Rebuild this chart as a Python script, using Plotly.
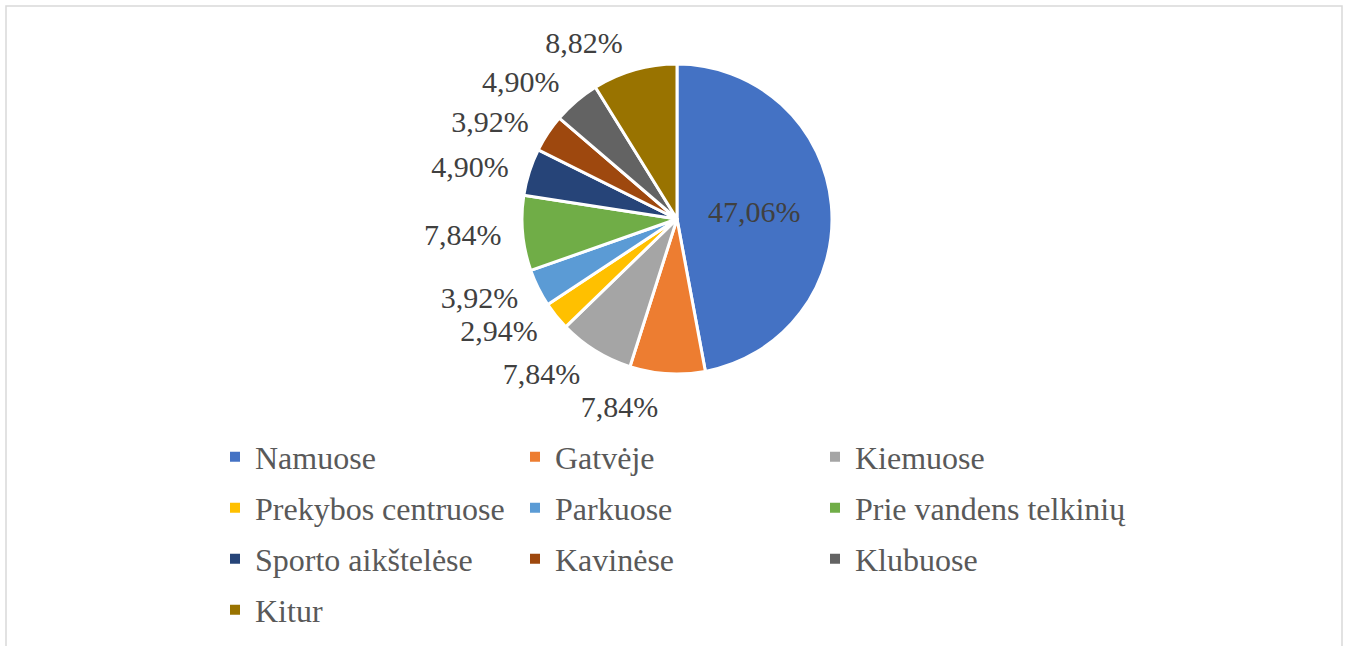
import plotly.graph_objects as go

categories = ["Namuose", "Gatvėje", "Kiemuose", "Prekybos centruose", "Parkuose",
              "Prie vandens telkinių", "Sporto aikštelėse", "Kavinėse", "Klubuose", "Kitur"]
values = [47.06, 7.84, 7.84, 2.94, 3.92, 7.84, 4.90, 3.92, 4.90, 8.82]
colors = ["#4472C4", "#ED7D31", "#A5A5A5", "#FFC000", "#5B9BD5",
          "#70AD47", "#264478", "#9E480E", "#636363", "#997300"]
labels_text = [f"{v:.2f}".replace(".", ",") + "%" for v in values]

FONT = "Liberation Serif, Times New Roman, DejaVu Serif, serif"
W, H = 1349, 646
cx, cy, r = 677, 219, 155
r_lab = 168  # outside labels sit a little away from the pie, as in the original


def dom(rad):
    return dict(x=[(cx - rad) / W, (cx + rad) / W], y=[1 - (cy + rad) / H, 1 - (cy - rad) / H])


common = dict(labels=categories, values=values, text=labels_text, textinfo="text",
              sort=False, direction="clockwise", rotation=0, showlegend=False)

# visible pie (inside label for the large slice)
fig = go.Figure(go.Pie(
    **common,
    textposition=["inside"] + ["none"] * (len(values) - 1),
    marker=dict(colors=colors, line=dict(color="white", width=3)),
    insidetextfont=dict(family=FONT, size=30, color="#404040"),
    insidetextorientation="horizontal",
    domain=dom(r),
    hoverinfo="label+text",
))
# outside percentage labels, placed on a slightly larger, transparent ring
fig.add_trace(go.Pie(
    **common,
    textposition=["none"] + ["outside"] * (len(values) - 1),
    marker=dict(colors=["rgba(0,0,0,0)"] * len(values), line=dict(width=0)),
    outsidetextfont=dict(family=FONT, size=30, color="#404040"),
    domain=dom(r_lab),
    hoverinfo="skip",
))

# legend entries: one small legend per entry, 3 columns x 4 rows
col_x = [215, 515, 815]
row_centers = [457, 508, 559, 610]
for i, (cat, col) in enumerate(zip(categories, colors)):
    name = "legend" if i == 0 else f"legend{i + 1}"
    fig.add_trace(go.Scatter(
        x=[None], y=[None], mode="markers", name=cat,
        marker=dict(symbol="square", size=10, color=col),
        legend=name, showlegend=True, hoverinfo="skip",
    ))
    fig.update_layout({name: dict(
        x=col_x[i % 3] / W, xanchor="left",
        y=1 - row_centers[i // 3] / H, yanchor="middle",
        font=dict(family=FONT, size=32, color="#595959"),
        bgcolor="rgba(0,0,0,0)",
    )})

fig.update_layout(
    width=W, height=H,
    margin=dict(l=0, r=0, t=0, b=0),
    paper_bgcolor="white",
    plot_bgcolor="white",
    xaxis=dict(visible=False),
    yaxis=dict(visible=False),
    shapes=[dict(type="rect", xref="paper", yref="paper",
                 x0=6 / W, x1=1342 / W, y0=-0.05, y1=1 - 6 / H,
                 line=dict(color="#D9D9D9", width=1.5), fillcolor="rgba(0,0,0,0)", layer="below")],
)

fig.write_html(
    "out.html", config={"displayModeBar": False},
    post_script=("document.body.style.margin='0';"
                 "document.querySelectorAll('path.textline').forEach(function(e){e.remove();});"),
)
